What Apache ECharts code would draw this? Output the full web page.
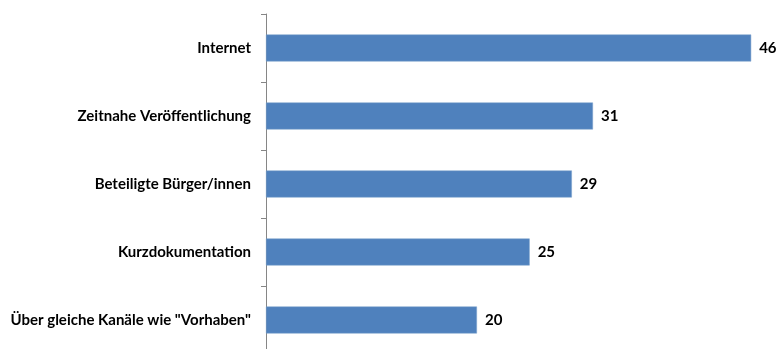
<!DOCTYPE html>
<html><head><meta charset="utf-8">
<script src="https://cdn.jsdelivr.net/npm/echarts@6/dist/echarts.min.js"></script>
<style>html,body{margin:0;padding:0;background:#fff}#c{width:777px;height:349px}</style>
</head><body><div id="c"></div>
<script>
const categories = ["Internet", "Zeitnahe Veröffentlichung", "Beteiligte Bürger/innen", "Kurzdokumentation", "Über gleiche Kanäle wie \"Vorhaben\""];
const values = [46, 31, 29, 25, 20];
const chart = echarts.init(document.getElementById('c'), null, {renderer: 'canvas'});
chart.setOption({
  animation: false,
  grid: {left: 266, top: 14, right: 0, height: 340, outerBoundsMode: 'none'},
  xAxis: {type: 'value', min: 0, max: 48.45, show: false},
  yAxis: {
    type: 'category', data: categories, inverse: true,
    axisLine: {show: true, lineStyle: {color: '#868686', width: 1}},
    axisTick: {show: true, length: 5, lineStyle: {color: '#868686'}},
    axisLabel: {margin: 15, fontFamily: 'Lato', fontWeight: 'bold', fontSize: 15, color: '#000'}
  },
  series: [{
    type: 'bar', data: values, barWidth: 27,
    itemStyle: {color: '#4F81BD', borderColor: '#7BA0CD', borderWidth: 0.5},
    label: {show: true, position: 'right', distance: 8, fontFamily: 'Lato', fontWeight: 'bold', fontSize: 15, color: '#000'}
  }]
});
</script></body></html>
